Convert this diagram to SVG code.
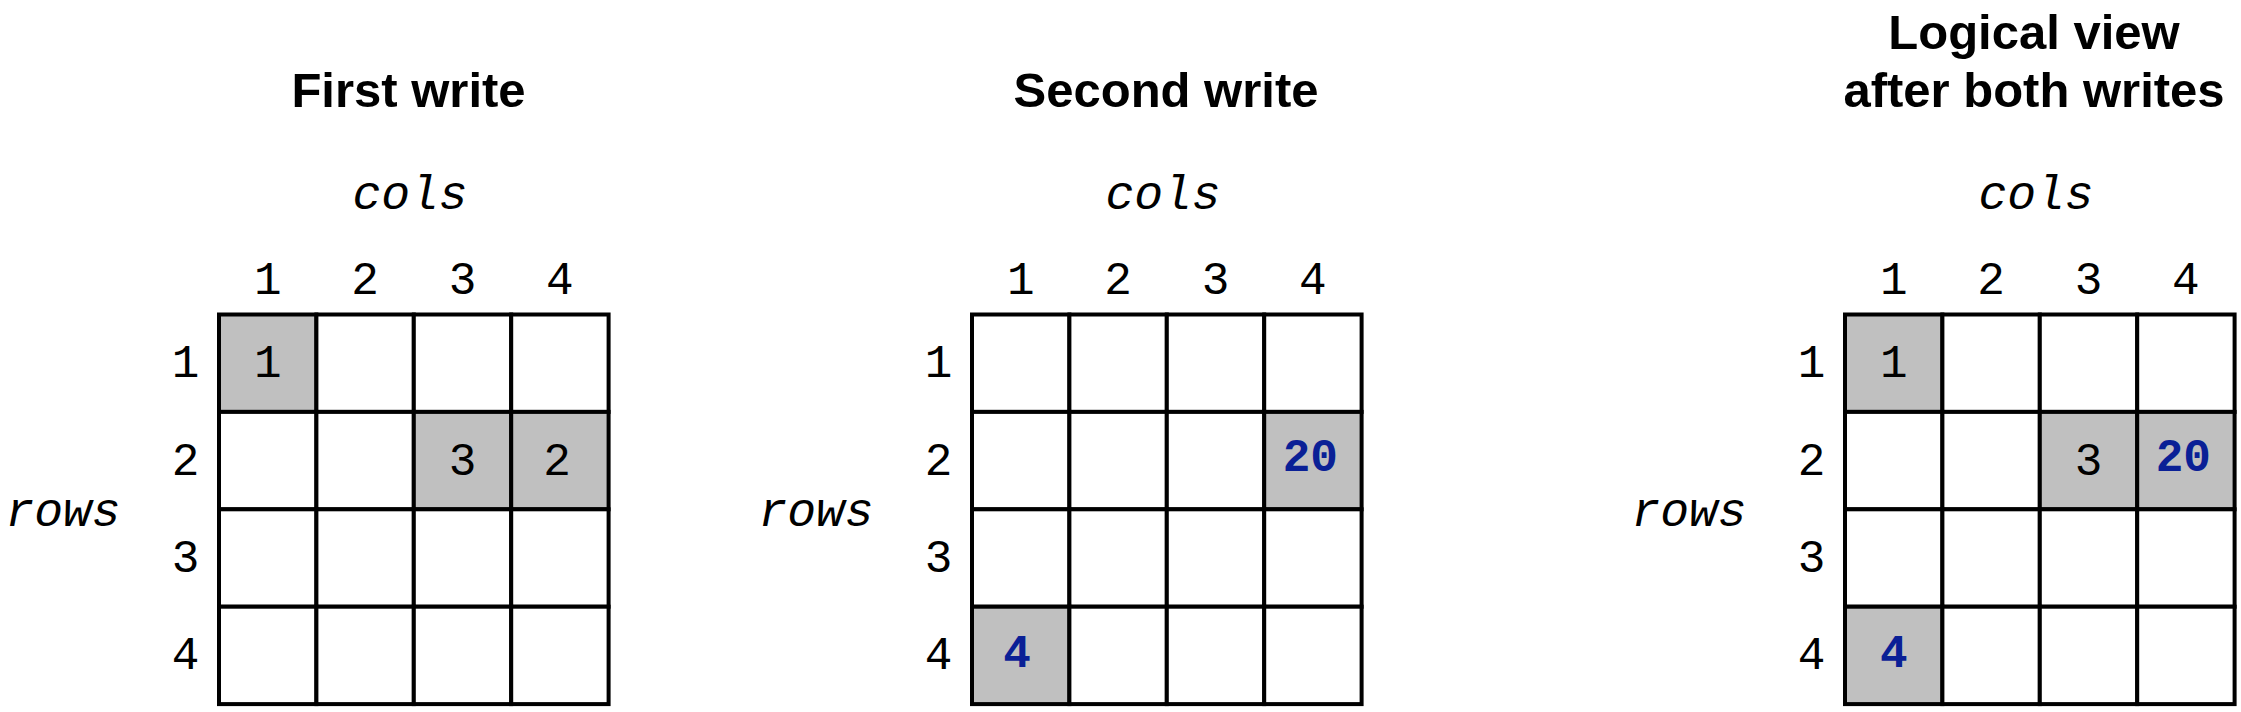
<svg xmlns="http://www.w3.org/2000/svg" width="2241" height="712" viewBox="0 0 2241 712">
<style>
.bg{fill:#ffffff}
.cell{fill:#ffffff;stroke:#000000;stroke-width:4}
.hl{fill:#c0c0c0;stroke:#000000;stroke-width:4}
.title{font-family:"Liberation Sans",Arial,sans-serif;font-weight:bold;font-size:49px;fill:#000000;text-anchor:middle}
.axis{font-family:"Liberation Mono","Courier New",monospace;font-style:italic;font-size:48px;fill:#000000;text-anchor:middle}
.num{font-family:"Liberation Mono","Courier New",monospace;font-size:46px;fill:#000000;text-anchor:middle}
.new{font-family:"Liberation Mono","Courier New",monospace;font-weight:bold;font-size:46px;fill:#0a2096;text-anchor:middle}
</style>
<rect class="bg" x="0" y="0" width="2241" height="712"/>

<g id="panel-first">
<text class="title" x="408.5" y="106.5">First write</text>
<g transform="translate(219,314.5)">
<text class="axis" x="191" y="-105.5">cols</text>
<text class="axis" x="-156" y="211.5">rows</text>
<g id="first-grid">
<rect class="hl" x="0" y="0" width="97.4" height="97.4"/>
<rect class="cell" x="97.4" y="0" width="97.4" height="97.4"/>
<rect class="cell" x="194.8" y="0" width="97.4" height="97.4"/>
<rect class="cell" x="292.2" y="0" width="97.4" height="97.4"/>
<rect class="cell" x="0" y="97.4" width="97.4" height="97.4"/>
<rect class="cell" x="97.4" y="97.4" width="97.4" height="97.4"/>
<rect class="hl" x="194.8" y="97.4" width="97.4" height="97.4"/>
<rect class="hl" x="292.2" y="97.4" width="97.4" height="97.4"/>
<rect class="cell" x="0" y="194.8" width="97.4" height="97.4"/>
<rect class="cell" x="97.4" y="194.8" width="97.4" height="97.4"/>
<rect class="cell" x="194.8" y="194.8" width="97.4" height="97.4"/>
<rect class="cell" x="292.2" y="194.8" width="97.4" height="97.4"/>
<rect class="cell" x="0" y="292.2" width="97.4" height="97.4"/>
<rect class="cell" x="97.4" y="292.2" width="97.4" height="97.4"/>
<rect class="cell" x="194.8" y="292.2" width="97.4" height="97.4"/>
<rect class="cell" x="292.2" y="292.2" width="97.4" height="97.4"/>
</g>
<text class="num" x="48.7" y="-20.5">1</text>
<text class="num" x="146.1" y="-20.5">2</text>
<text class="num" x="243.5" y="-20.5">3</text>
<text class="num" x="340.9" y="-20.5">4</text>
<text class="num" x="-33.5" y="62.7">1</text>
<text class="num" x="-33.5" y="160.1">2</text>
<text class="num" x="-33.5" y="257.5">3</text>
<text class="num" x="-33.5" y="354.9">4</text>
<text class="num" x="48.7" y="62.7">1</text>
<text class="num" x="243.5" y="160.1">3</text>
<text class="num" x="338" y="160.1">2</text>
</g>
</g>

<g id="panel-second">
<text class="title" x="1166" y="106.5">Second write</text>
<g transform="translate(972,314.5)">
<text class="axis" x="191" y="-105.5">cols</text>
<text class="axis" x="-156" y="211.5">rows</text>
<g id="second-grid">
<rect class="cell" x="0" y="0" width="97.4" height="97.4"/>
<rect class="cell" x="97.4" y="0" width="97.4" height="97.4"/>
<rect class="cell" x="194.8" y="0" width="97.4" height="97.4"/>
<rect class="cell" x="292.2" y="0" width="97.4" height="97.4"/>
<rect class="cell" x="0" y="97.4" width="97.4" height="97.4"/>
<rect class="cell" x="97.4" y="97.4" width="97.4" height="97.4"/>
<rect class="cell" x="194.8" y="97.4" width="97.4" height="97.4"/>
<rect class="hl" x="292.2" y="97.4" width="97.4" height="97.4"/>
<rect class="cell" x="0" y="194.8" width="97.4" height="97.4"/>
<rect class="cell" x="97.4" y="194.8" width="97.4" height="97.4"/>
<rect class="cell" x="194.8" y="194.8" width="97.4" height="97.4"/>
<rect class="cell" x="292.2" y="194.8" width="97.4" height="97.4"/>
<rect class="hl" x="0" y="292.2" width="97.4" height="97.4"/>
<rect class="cell" x="97.4" y="292.2" width="97.4" height="97.4"/>
<rect class="cell" x="194.8" y="292.2" width="97.4" height="97.4"/>
<rect class="cell" x="292.2" y="292.2" width="97.4" height="97.4"/>
</g>
<text class="num" x="48.7" y="-20.5">1</text>
<text class="num" x="146.1" y="-20.5">2</text>
<text class="num" x="243.5" y="-20.5">3</text>
<text class="num" x="340.9" y="-20.5">4</text>
<text class="num" x="-33.5" y="62.7">1</text>
<text class="num" x="-33.5" y="160.1">2</text>
<text class="num" x="-33.5" y="257.5">3</text>
<text class="num" x="-33.5" y="354.9">4</text>
<text class="new" x="338.3" y="156">20</text>
<text class="new" x="45" y="352">4</text>
</g>
</g>

<g id="panel-logical">
<text class="title" x="2034" y="49">Logical view</text>
<text class="title" x="2034" y="106.5">after both writes</text>
<g transform="translate(1845,314.5)">
<text class="axis" x="191" y="-105.5">cols</text>
<text class="axis" x="-156" y="211.5">rows</text>
<g id="logical-grid">
<rect class="hl" x="0" y="0" width="97.4" height="97.4"/>
<rect class="cell" x="97.4" y="0" width="97.4" height="97.4"/>
<rect class="cell" x="194.8" y="0" width="97.4" height="97.4"/>
<rect class="cell" x="292.2" y="0" width="97.4" height="97.4"/>
<rect class="cell" x="0" y="97.4" width="97.4" height="97.4"/>
<rect class="cell" x="97.4" y="97.4" width="97.4" height="97.4"/>
<rect class="hl" x="194.8" y="97.4" width="97.4" height="97.4"/>
<rect class="hl" x="292.2" y="97.4" width="97.4" height="97.4"/>
<rect class="cell" x="0" y="194.8" width="97.4" height="97.4"/>
<rect class="cell" x="97.4" y="194.8" width="97.4" height="97.4"/>
<rect class="cell" x="194.8" y="194.8" width="97.4" height="97.4"/>
<rect class="cell" x="292.2" y="194.8" width="97.4" height="97.4"/>
<rect class="hl" x="0" y="292.2" width="97.4" height="97.4"/>
<rect class="cell" x="97.4" y="292.2" width="97.4" height="97.4"/>
<rect class="cell" x="194.8" y="292.2" width="97.4" height="97.4"/>
<rect class="cell" x="292.2" y="292.2" width="97.4" height="97.4"/>
</g>
<text class="num" x="48.7" y="-20.5">1</text>
<text class="num" x="146.1" y="-20.5">2</text>
<text class="num" x="243.5" y="-20.5">3</text>
<text class="num" x="340.9" y="-20.5">4</text>
<text class="num" x="-33.5" y="62.7">1</text>
<text class="num" x="-33.5" y="160.1">2</text>
<text class="num" x="-33.5" y="257.5">3</text>
<text class="num" x="-33.5" y="354.9">4</text>
<text class="num" x="48.7" y="62.7">1</text>
<text class="num" x="243.5" y="160.1">3</text>
<text class="new" x="338.3" y="156">20</text>
<text class="new" x="48.7" y="352">4</text>
</g>
</g>
</svg>
